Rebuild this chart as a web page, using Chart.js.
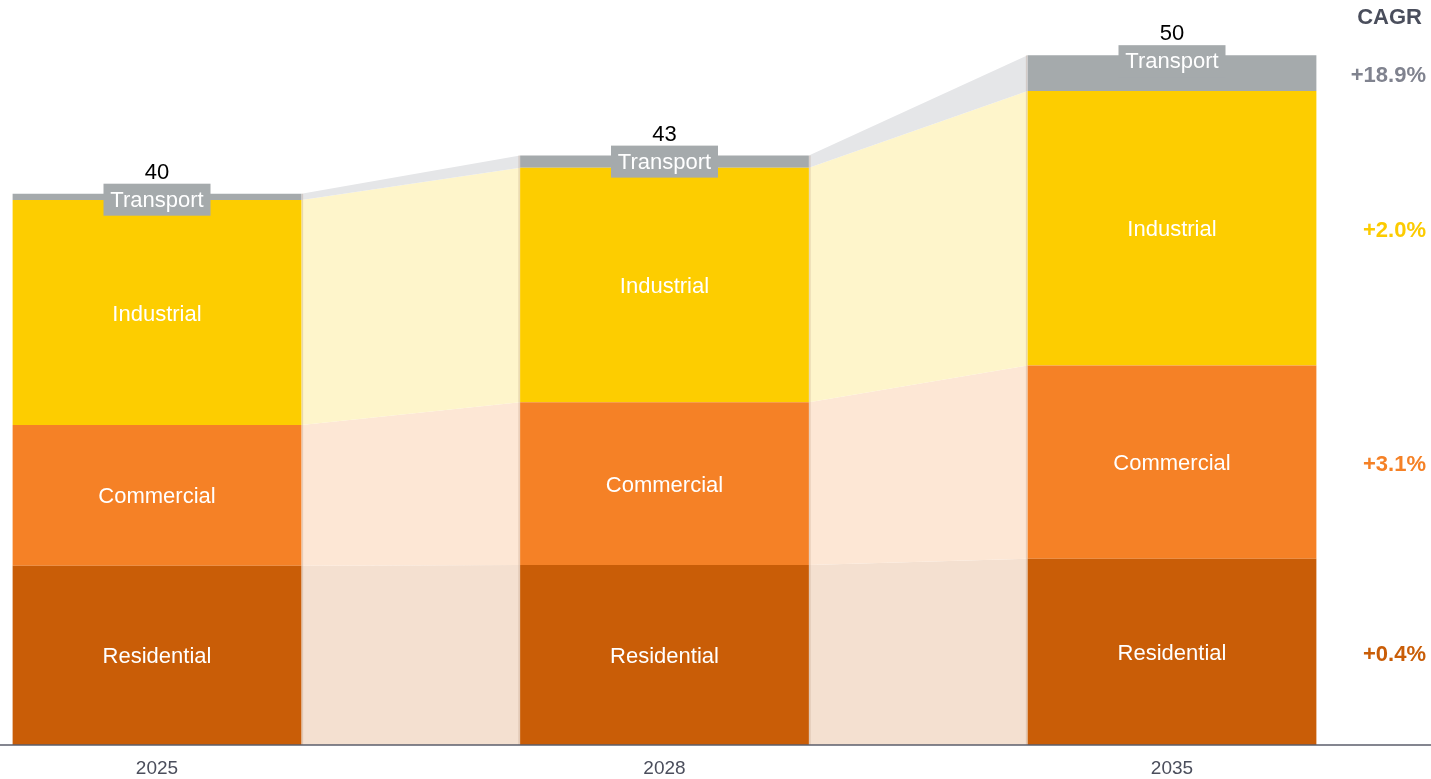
<!DOCTYPE html>
<html>
<head>
<meta charset="utf-8">
<script src="https://cdn.jsdelivr.net/npm/chart.js@4.4.1/dist/chart.umd.min.js"></script>
<style>
  html, body { margin: 0; padding: 0; background: #fff; }
  #wrap { position: relative; width: 1431px; height: 779px; }
</style>
</head>
<body>
<div id="wrap"><canvas id="demandChart"></canvas></div>
<script>
// chart data
const years = ['2025', '2028', '2035'];
const segmentNames = ['Residential', 'Commercial', 'Industrial', 'Transport'];
const residential = [13.0, 13.05, 13.5];
const commercial = [10.2, 11.8, 14.0];
const industrial = [16.3, 17.0, 19.9];
const transport = [0.46, 0.87, 2.6];
const totals = ['40', '43', '50'];
const cagrLabels = ['+0.4%', '+3.1%', '+2.0%', '+18.9%'];

// styles
const barColors = ['#c95d07', '#f58126', '#fdcd00', '#a5aaac'];
const bridgeColors = ['#f4e0d0', '#fde7d5', '#fef5cb', '#e5e6e8'];
const cagrColors = ['#c95d07', '#f58126', '#fccb00', '#80838f'];
const FONT = '"Liberation Sans", Arial, sans-serif';

// bridges between the bars, labels and CAGR column
const bridgePlugin = {
    id: 'bridges',
    beforeDatasetsDraw(chart) {
        const ctx = chart.ctx;
        ctx.save();
        for (let i = 0; i < years.length - 1; i++) {
            chart.data.datasets.forEach((ds, d) => {
                const a = chart.getDatasetMeta(d).data[i];
                const b = chart.getDatasetMeta(d).data[i + 1];
                const x1 = a.x + a.width / 2;
                const x2 = b.x - b.width / 2;
                ctx.beginPath();
                ctx.moveTo(x1, a.y);
                ctx.lineTo(x2, b.y);
                ctx.lineTo(x2, b.base);
                ctx.lineTo(x1, a.base);
                ctx.closePath();
                ctx.fillStyle = bridgeColors[d];
                ctx.fill();
            });
            // faint edges of the bridge column
            const first = chart.getDatasetMeta(0).data;
            const last = chart.getDatasetMeta(chart.data.datasets.length - 1).data;
            const x1 = first[i].x + first[i].width / 2;
            const x2 = first[i + 1].x - first[i + 1].width / 2;
            ctx.strokeStyle = 'rgba(150, 110, 80, 0.22)';
            ctx.lineWidth = 1.5;
            ctx.beginPath();
            ctx.moveTo(x1 + 1, last[i].y);
            ctx.lineTo(x1 + 1, first[i].base);
            ctx.moveTo(x2 - 1, last[i + 1].y);
            ctx.lineTo(x2 - 1, first[i + 1].base);
            ctx.stroke();
        }
        ctx.restore();
    },
    afterDatasetsDraw(chart) {
        const ctx = chart.ctx;
        const area = chart.chartArea;
        const xScale = chart.scales.x;
        ctx.save();
        // baseline across the full width
        ctx.strokeStyle = '#5b5e6b';
        ctx.lineWidth = 1.5;
        ctx.beginPath();
        ctx.moveTo(0, area.bottom);
        ctx.lineTo(chart.width, area.bottom);
        ctx.stroke();

        ctx.textAlign = 'center';
        ctx.textBaseline = 'middle';

        // year labels
        ctx.font = '19px ' + FONT;
        ctx.fillStyle = '#4b4e5c';
        years.forEach((y, i) => {
            ctx.fillText(y, xScale.getPixelForValue(i), area.bottom + 24);
        });

        ctx.font = '22px ' + FONT;
        const n = chart.data.datasets.length;
        for (let i = 0; i < years.length; i++) {
            for (let d = 0; d < n - 1; d++) {
                const el = chart.getDatasetMeta(d).data[i];
                ctx.fillStyle = '#ffffff';
                ctx.fillText(segmentNames[d], el.x, (el.y + el.base) / 2 + 2);
            }
            // transport tag and total
            const top = chart.getDatasetMeta(n - 1).data[i];
            const boxW = 107, boxH = 32;
            const boxTop = top.y - 10;
            ctx.fillStyle = barColors[n - 1];
            ctx.fillRect(top.x - boxW / 2, boxTop, boxW, boxH);
            ctx.fillStyle = '#ffffff';
            ctx.fillText(segmentNames[n - 1], top.x, boxTop + boxH / 2 + 1);
            ctx.fillStyle = '#000000';
            ctx.fillText(totals[i], top.x, top.y - 21);
        }

        // CAGR column
        const xr = 1426;
        ctx.textAlign = 'right';
        ctx.font = 'bold 22px ' + FONT;
        ctx.fillStyle = '#4a4e5c';
        ctx.fillText('CAGR', xr - 4, 18);
        const lastIdx = years.length - 1;
        for (let d = 0; d < n; d++) {
            const el = chart.getDatasetMeta(d).data[lastIdx];
            ctx.fillStyle = cagrColors[d];
            ctx.fillText(cagrLabels[d], xr, (el.y + el.base) / 2 + 3);
        }
        ctx.restore();
    }
};

const seriesValues = [residential, commercial, industrial, transport];

new Chart(document.getElementById('demandChart'), {
    type: 'bar',
    data: {
        labels: years,
        datasets: seriesValues.map((values, d) => ({
            label: segmentNames[d],
            data: values,
            backgroundColor: barColors[d],
            borderWidth: 0,
            categoryPercentage: 1,
            barPercentage: 0.569,
            clip: false
        }))
    },
    options: {
        responsive: true,
        maintainAspectRatio: false,
        animation: false,
        layout: { padding: { left: 157, right: 259, top: 0, bottom: 34 } },
        plugins: {
            legend: { display: false },
            tooltip: { enabled: false }
        },
        scales: {
            x: {
                stacked: true,
                offset: false,
                display: false
            },
            y: {
                stacked: true,
                display: false,
                min: 0,
                max: 54
            }
        }
    },
    plugins: [bridgePlugin]
});
</script>
</body>
</html>
